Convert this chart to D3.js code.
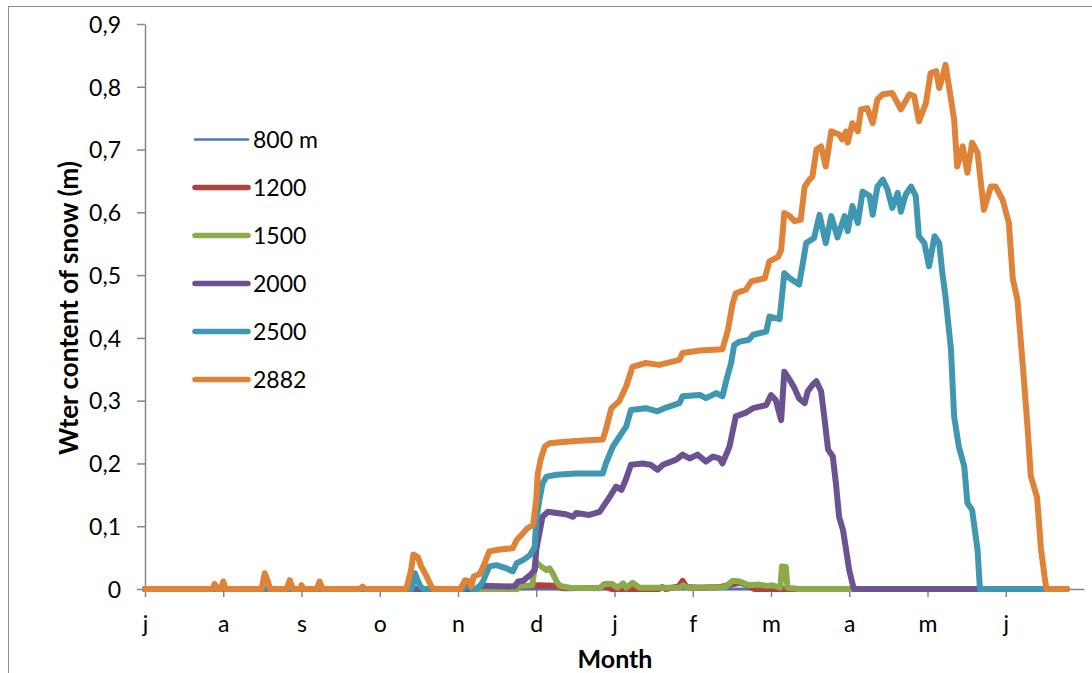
<!DOCTYPE html>
<html>
  <head>
    <meta http-equiv="Content-Type" content="text/html;charset=utf-8">
    <title>snow water content</title>
    <script type="text/javascript" src="https://cdn.jsdelivr.net/npm/d3@7"></script>
    <style type="text/css">
body {
    margin: 0;
    background: #fff;
}
text {
    font-family: Lato, "Open Sans", sans-serif;
    fill: #000;
}
.axis path, .axis line {
    stroke: #868686;
    stroke-width: 1.5;
}
.series {
    fill: none;
    stroke-linejoin: round;
    stroke-linecap: round;
}
    </style>
  </head>
  <body>
    <script type="text/javascript">
// x = months since 1 July (tick every month), y = snow water content (m)
var monthLabels = ["j", "a", "s", "o", "n", "d", "j", "f", "m", "a", "m", "j"];
var yTicks = [0, 0.1, 0.2, 0.3, 0.4, 0.5, 0.6, 0.7, 0.8, 0.9];
var seriesNames = ["800 m", "1200", "1500", "2000", "2500", "2882"];
var seriesColors = ["#4a78b5", "#b0413e", "#8caa4b", "#6b5391", "#3f97b0", "#de8337"];
var seriesWidths = [3, 6, 6, 6, 6, 6];

var s800 = [[0, 0], [11.78, 0]];

var s1200 = [[0, 0], [4.72, 0], [4.79, 0.004], [5.04, 0.006], [5.23, 0.005], [5.36, 0.001],
  [5.81, 0.002], [5.88, 0.004], [5.96, 0], [6.57, 0], [6.61, 0.003], [6.65, 0], [6.82, 0.004],
  [6.87, 0.013], [6.92, 0.003], [7.09, 0.002], [7.34, 0.003], [7.60, 0.01], [7.70, 0.006],
  [7.79, 0], [11.78, 0]];

var s1500 = [[0, 0], [4.76, 0], [4.79, 0.005], [4.95, 0.006], [4.99, 0.044], [5.04, 0.038],
  [5.13, 0.03], [5.17, 0.033], [5.21, 0.025], [5.26, 0.012], [5.30, 0.005], [5.43, 0.002],
  [5.81, 0.001], [5.87, 0.008], [5.97, 0.008], [6.04, 0.002], [6.11, 0.009], [6.15, 0.002],
  [6.23, 0.01], [6.32, 0.002], [6.83, 0.002], [6.88, 0.006], [6.93, 0.002], [7.41, 0.003],
  [7.51, 0.013], [7.60, 0.012], [7.72, 0.006], [7.85, 0.007], [7.94, 0.005], [8.02, 0.006],
  [8.12, 0.002], [8.14, 0.036], [8.19, 0.035], [8.21, 0.002], [8.36, 0], [11.78, 0]];

var s2000 = [[0, 0], [4.23, 0], [4.28, 0.005], [4.72, 0.004], [4.77, 0.012], [4.83, 0.013],
  [4.92, 0.022], [4.98, 0.03], [5.00, 0.062], [5.04, 0.089], [5.08, 0.115], [5.15, 0.123],
  [5.26, 0.121], [5.38, 0.119], [5.47, 0.115], [5.51, 0.121], [5.68, 0.118], [5.81, 0.123],
  [5.87, 0.134], [5.94, 0.147], [6.02, 0.163], [6.09, 0.158], [6.15, 0.176], [6.21, 0.198],
  [6.36, 0.2], [6.46, 0.198], [6.55, 0.19], [6.62, 0.198], [6.79, 0.206], [6.87, 0.214],
  [6.96, 0.208], [7.06, 0.214], [7.17, 0.203], [7.26, 0.211], [7.34, 0.208], [7.38, 0.2],
  [7.47, 0.227], [7.55, 0.275], [7.68, 0.281], [7.77, 0.288], [7.94, 0.293], [8.00, 0.309],
  [8.06, 0.301], [8.13, 0.269], [8.17, 0.346], [8.24, 0.333], [8.30, 0.32], [8.36, 0.303],
  [8.43, 0.296], [8.47, 0.315], [8.53, 0.325], [8.58, 0.331], [8.64, 0.315], [8.68, 0.275],
  [8.73, 0.222], [8.79, 0.211], [8.83, 0.168], [8.87, 0.115], [8.92, 0.094], [8.96, 0.062],
  [9.00, 0.03], [9.04, 0.009], [9.06, 0], [10.66, 0]];

var s2500 = [[0, 0], [3.41, 0], [3.45, 0.025], [3.49, 0.012], [3.52, 0.004], [3.56, 0],
  [4.07, 0], [4.12, 0.01], [4.17, 0], [4.25, 0], [4.32, 0.012], [4.40, 0.036], [4.49, 0.038],
  [4.62, 0.033], [4.70, 0.028], [4.75, 0.041], [4.83, 0.046], [4.92, 0.054], [4.98, 0.067],
  [5.00, 0.11], [5.04, 0.142], [5.08, 0.168], [5.13, 0.179], [5.26, 0.182], [5.51, 0.184],
  [5.85, 0.184], [5.89, 0.2], [5.98, 0.227], [6.09, 0.248], [6.15, 0.259], [6.21, 0.285],
  [6.40, 0.288], [6.55, 0.283], [6.66, 0.289], [6.83, 0.296], [6.87, 0.307], [7.09, 0.309],
  [7.17, 0.304], [7.30, 0.312], [7.38, 0.307], [7.43, 0.333], [7.49, 0.36], [7.53, 0.389],
  [7.60, 0.394], [7.72, 0.397], [7.77, 0.405], [7.94, 0.41], [7.98, 0.434], [8.11, 0.43],
  [8.17, 0.503], [8.24, 0.495], [8.36, 0.485], [8.40, 0.514], [8.45, 0.551], [8.55, 0.559],
  [8.62, 0.596], [8.70, 0.551], [8.77, 0.594], [8.85, 0.56], [8.94, 0.594], [8.98, 0.57],
  [9.04, 0.61], [9.11, 0.583], [9.17, 0.633], [9.26, 0.626], [9.30, 0.596], [9.36, 0.641],
  [9.43, 0.652], [9.49, 0.636], [9.55, 0.607], [9.62, 0.631], [9.66, 0.601], [9.72, 0.628],
  [9.79, 0.641], [9.85, 0.626], [9.89, 0.562], [9.96, 0.551], [10.02, 0.514], [10.09, 0.562],
  [10.15, 0.551], [10.19, 0.503], [10.23, 0.466], [10.30, 0.381], [10.34, 0.275],
  [10.40, 0.227], [10.47, 0.195], [10.51, 0.137], [10.57, 0.126], [10.64, 0.062],
  [10.67, 0], [11.78, 0]];

var s2882 = [[0, 0], [0.86, 0], [0.89, 0.008], [0.93, 0], [0.97, 0], [1.00, 0.012], [1.03, 0],
  [1.49, 0], [1.53, 0.025], [1.57, 0.012], [1.60, 0], [1.81, 0], [1.85, 0.014], [1.89, 0],
  [1.98, 0], [2.00, 0.006], [2.03, 0], [2.20, 0], [2.23, 0.012], [2.27, 0], [2.74, 0],
  [2.78, 0.004], [2.82, 0], [3.34, 0], [3.40, 0.03], [3.43, 0.055], [3.49, 0.05],
  [3.53, 0.036], [3.60, 0.02], [3.66, 0.004], [3.69, 0], [4.03, 0], [4.09, 0.014],
  [4.14, 0.012], [4.17, 0.004], [4.20, 0.02], [4.28, 0.024], [4.34, 0.041], [4.40, 0.06],
  [4.53, 0.063], [4.70, 0.065], [4.75, 0.078], [4.81, 0.086], [4.89, 0.097], [4.96, 0.102],
  [5.00, 0.142], [5.02, 0.184], [5.06, 0.208], [5.11, 0.227], [5.17, 0.232], [5.34, 0.234],
  [5.55, 0.236], [5.85, 0.238], [5.89, 0.254], [5.96, 0.288], [6.06, 0.299], [6.15, 0.323],
  [6.23, 0.354], [6.40, 0.36], [6.57, 0.357], [6.83, 0.365], [6.87, 0.376], [7.09, 0.38],
  [7.38, 0.382], [7.45, 0.413], [7.51, 0.455], [7.55, 0.471], [7.68, 0.477], [7.75, 0.49],
  [7.92, 0.495], [7.98, 0.522], [8.09, 0.529], [8.13, 0.54], [8.17, 0.599], [8.24, 0.594],
  [8.30, 0.586], [8.38, 0.588], [8.43, 0.641], [8.49, 0.652], [8.53, 0.657], [8.58, 0.7],
  [8.64, 0.705], [8.70, 0.673], [8.77, 0.729], [8.87, 0.724], [8.91, 0.716], [8.96, 0.729],
  [8.98, 0.711], [9.04, 0.742], [9.11, 0.729], [9.15, 0.764], [9.23, 0.766], [9.30, 0.742],
  [9.36, 0.78], [9.43, 0.788], [9.55, 0.79], [9.66, 0.764], [9.77, 0.788], [9.83, 0.785],
  [9.89, 0.745], [9.98, 0.774], [10.04, 0.822], [10.11, 0.825], [10.15, 0.798],
  [10.19, 0.815], [10.23, 0.835], [10.28, 0.796], [10.34, 0.748], [10.38, 0.673],
  [10.45, 0.705], [10.51, 0.663], [10.57, 0.711], [10.64, 0.695], [10.72, 0.604],
  [10.81, 0.641], [10.87, 0.641], [10.96, 0.62], [11.04, 0.583], [11.09, 0.494],
  [11.15, 0.46], [11.23, 0.337], [11.28, 0.255], [11.32, 0.18], [11.40, 0.146],
  [11.45, 0.064], [11.50, 0.016], [11.52, 0], [11.78, 0]];

var allSeries = [s800, s1200, s1500, s2000, s2500, s2882];

var width = 1092,
   height = 673;

var svg = d3.select("body")
  .append("svg")
  .attr("width", width)
  .attr("height", height);

svg.append("rect")
  .attr("width", width)
  .attr("height", height)
  .attr("fill", "#fff");

// chart border (right and bottom edges fall outside the picture)
svg.append("rect")
  .attr("x", 8.5)
  .attr("y", 6.5)
  .attr("width", 1100)
  .attr("height", 700)
  .attr("fill", "none")
  .attr("stroke", "#8c8c8c")
  .attr("stroke-width", 1);

var x = d3.scaleLinear().domain([0, 12]).range([145, 1084]);
var y = d3.scaleLinear().domain([0, 0.9]).range([589, 24]);

var xAxis = d3.axisBottom(x)
  .tickValues(d3.range(12))
  .tickSize(8)
  .tickSizeOuter(0)
  .tickFormat(function(d) { return monthLabels[d]; });

var yAxis = d3.axisLeft(y)
  .tickValues(yTicks)
  .tickSize(8)
  .tickSizeOuter(0)
  .tickFormat(function(d) { return d === 0 ? "0" : d3.format(".1f")(d).replace(".", ","); });

var gy = svg.append("g")
  .attr("class", "axis")
  .attr("transform", "translate(145,0)")
  .call(yAxis);
gy.selectAll("text")
  .attr("x", -24)
  .attr("dy", "0.36em")
  .style("font-size", "23px");

var gx = svg.append("g")
  .attr("class", "axis")
  .attr("transform", "translate(0,589)")
  .call(xAxis);
gx.selectAll("text")
  .attr("y", 43)
  .attr("dy", 0)
  .style("font-size", "23px");

var line = d3.line()
  .x(function(d) { return x(d[0]); })
  .y(function(d) { return y(d[1]); });

svg.append("g")
  .selectAll("path")
  .data(allSeries)
  .join("path")
  .attr("class", "series")
  .attr("d", line)
  .attr("stroke", function(d, i) { return seriesColors[i]; })
  .attr("stroke-width", function(d, i) { return seriesWidths[i]; });

// legend
var legend = svg.append("g")
  .selectAll("g")
  .data(seriesNames)
  .join("g")
  .attr("transform", function(d, i) { return "translate(195," + (139.5 + i * 48) + ")"; });

legend.append("line")
  .attr("x1", 0)
  .attr("x2", 53)
  .attr("stroke", function(d, i) { return seriesColors[i]; })
  .attr("stroke-width", function(d, i) { return seriesWidths[i] - 0.5; })
  .attr("stroke-linecap", "round");

legend.append("text")
  .attr("x", 58)
  .attr("dy", "0.36em")
  .style("font-size", "23px")
  .text(function(d) { return d; });

// axis titles
svg.append("text")
  .attr("transform", "translate(78,308) rotate(-90)")
  .attr("text-anchor", "middle")
  .style("font-size", "26px")
  .style("font-weight", "bold")
  .text("Wter content of snow (m)");

svg.append("text")
  .attr("x", 615)
  .attr("y", 668)
  .attr("text-anchor", "middle")
  .style("font-size", "25px")
  .style("font-weight", "bold")
  .text("Month");
    </script>
  </body>
</html>
